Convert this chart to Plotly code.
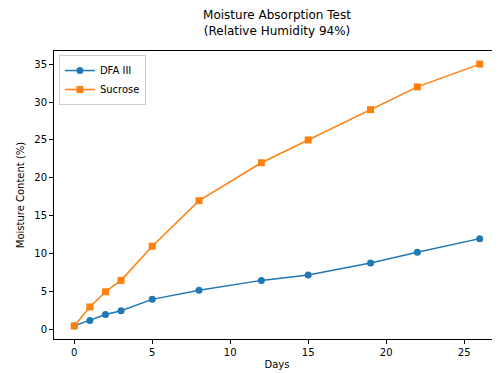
import plotly.graph_objects as go

days = [0, 1, 2, 3, 5, 8, 12, 15, 19, 22, 26]
dfa_iii = [0.5, 1.2, 2.0, 2.5, 4.0, 5.2, 6.5, 7.2, 8.8, 10.2, 12.0]
sucrose = [0.5, 3.0, 5.0, 6.5, 11.0, 17.0, 22.0, 25.0, 29.0, 32.0, 35.0]

font = "DejaVu Sans"

fig = go.Figure()
fig.add_trace(go.Scatter(x=days, y=dfa_iii, mode="lines+markers", name="DFA III",
                         line=dict(color="#1f77b4", width=1.5),
                         marker=dict(symbol="circle", size=7, color="#1f77b4")))
fig.add_trace(go.Scatter(x=days, y=sucrose, mode="lines+markers", name="Sucrose",
                         line=dict(color="#ff7f0e", width=1.5),
                         marker=dict(symbol="square", size=7, color="#ff7f0e")))

axis_common = dict(showline=True, linecolor="black", linewidth=1, mirror=True,
                   ticks="outside", ticklen=4, tickcolor="black", tickwidth=1,
                   showgrid=False, zeroline=False, automargin=False,
                   tickfont=dict(family=font, size=10, color="black"))

fig.update_layout(
    width=500, height=373,
    margin=dict(l=46, r=8, t=43, b=42),
    paper_bgcolor="white", plot_bgcolor="white",
    font=dict(family=font, color="black"),
    title=dict(text="Moisture Absorption Test<br>(Relative Humidity 94%)",
               x=0.5, xref="paper", xanchor="center",
               y=1 - 11 / 373, yref="container", yanchor="top", automargin=False,
               font=dict(family=font, size=12, color="black")),
    xaxis=dict(range=[-1.3, 27.3], tickvals=[0, 5, 10, 15, 20, 25],
               title=dict(text="Days", font=dict(family=font, size=10), standoff=3),
               **axis_common),
    yaxis=dict(range=[-1.225, 36.725], tickvals=[0, 5, 10, 15, 20, 25, 30, 35],
               title=dict(text="Moisture Content (%)", font=dict(family=font, size=10), standoff=7),
               **axis_common),
    legend=dict(x=0.011, y=0.986, xanchor="left", yanchor="top",
                bgcolor="rgba(255,255,255,0.8)", bordercolor="#cccccc", borderwidth=1,
                font=dict(family=font, size=10, color="black"),
                tracegroupgap=0, itemwidth=30),
    showlegend=True,
)

fig.write_html("out.html")
